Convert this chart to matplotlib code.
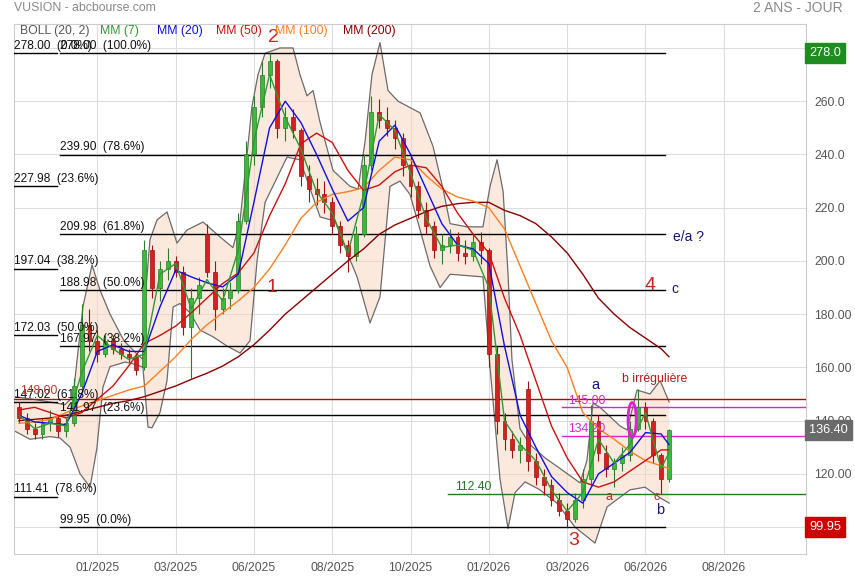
import matplotlib.pyplot as plt
import matplotlib.transforms as mtransforms
from matplotlib.patches import Ellipse
import numpy as np

plt.rcParams['font.family'] = ['Liberation Sans', 'DejaVu Sans']

# x is a trading-day index, month ticks every 40 days
tick_pos = [40, 80, 120, 160, 200, 240, 280, 320, 360]
tick_labels = ['01/2025', '03/2025', '06/2025', '08/2025', '10/2025',
               '01/2026', '03/2026', '06/2026', '08/2026']
price_ticks = [100, 120, 140, 160, 180, 200, 220, 240, 260, 280]
price_tick_labels = ['', '120.00', '140.00', '160.00', '180.00',
                     '200.0', '220.0', '240.0', '260.0', '280.0']

# candles, one every 4 days
candle_x = list(range(0, 333, 4))
opens = [145, 141, 137, 135, 139, 141, 136, 139, 153, 176,
         170, 165, 170, 167, 165, 164, 160, 204, 190, 197,
         200, 196, 175, 186, 210, 196, 182, 186, 189, 215,
         240, 258, 270, 275, 250, 254, 249, 232, 227, 225,
         222, 213, 206, 202, 210, 236, 256, 253, 250, 246,
         236, 228, 219, 213, 204, 206, 209, 203, 202, 207,
         204, 165, 140, 133, 129, 152, 125, 119, 116, 110,
         106, 103, 110, 118, 140, 128, 122, 124, 127, 137,
         145, 140, 127, 118]
closes = [141, 137, 135, 139, 141, 136, 139, 153, 176, 170,
          165, 170, 167, 165, 164, 159, 204, 190, 197, 200,
          196, 175, 186, 191, 196, 182, 186, 189, 215, 240,
          258, 270, 275, 250, 254, 249, 232, 227, 225, 222,
          213, 206, 202, 210, 236, 256, 253, 250, 246, 236,
          228, 219, 213, 204, 206, 209, 203, 202, 207, 204,
          165, 140, 133, 129, 131, 125, 119, 116, 110, 106,
          103, 110, 118, 140, 128, 122, 124, 127, 137, 145,
          140, 127, 118, 136.4]
highs = [147, 143, 139, 141, 144, 142, 141, 156, 184, 182,
         174, 172, 172, 169, 167, 165, 208, 206, 200, 205,
         202, 198, 190, 194, 214, 200, 190, 192, 218, 245,
         262, 275, 278, 276, 258, 257, 250, 236, 231, 230,
         224, 215, 208, 213, 240, 262, 261, 258, 253, 248,
         240, 230, 222, 215, 210, 212, 211, 208, 210, 211,
         205, 168, 143, 136, 134, 155, 128, 122, 118, 113,
         109, 113, 122, 146, 142, 131, 126, 130, 140, 152,
         147, 141, 128, 137]
lows = [139, 135, 133, 133, 136, 134, 134, 138, 152, 166,
        162, 164, 165, 163, 162, 157, 159, 186, 185, 193,
        194, 172, 156, 180, 194, 174, 180, 182, 188, 214,
        236, 254, 265, 246, 245, 246, 228, 222, 221, 218,
        210, 203, 196, 200, 209, 234, 250, 247, 242, 232,
        224, 216, 210, 201, 199, 203, 200, 199, 200, 199,
        160, 135, 129, 126, 124, 121, 116, 112, 108, 104,
        99.95, 102, 107, 116, 125, 119, 115, 121, 125, 136,
        137, 124, 112.4, 117]

# moving averages, one value every 8 days
ma_x = list(range(0, 329, 8)) + [332]
mm7 = [142, 137, 139, 138, 158, 172, 167, 163, 165, 195,
       199, 182, 193, 185, 204, 245, 270, 254, 242, 226,
       218, 203, 225, 255, 249, 233, 216, 205, 206, 204,
       190, 140, 131, 125, 114, 106, 113, 133, 124, 131,
       143, 122, 128]
mm20 = [142, 139.5, 139, 138.5, 150, 166, 168.5, 166, 166, 182.7,
        196.5, 194, 191.8, 190.2, 195, 222, 250, 260, 252, 240,
        227, 215, 220, 245, 251, 240, 227, 214, 206, 204.5,
        199, 168, 142, 130, 119, 113, 109, 120, 124, 128,
        135.5, 135, 131]
mm50 = [144, 145, 143, 141, 143, 148, 153, 160.5, 169, 172,
        175.5, 180.5, 186, 191.5, 195.5, 203, 217, 229, 244, 248,
        244.5, 234, 226.5, 228.5, 233.5, 236, 235, 228, 218, 210,
        203, 186, 172, 155, 138, 126, 117, 115, 117, 121,
        125, 129, 129]
mm100 = [139, 139.5, 140.5, 143, 145.5, 147.5, 149.5, 151.5, 153, 158.5,
         164, 170.5, 176, 180.5, 185, 190, 197, 206, 216, 222,
         225, 226, 227.5, 234, 239, 238, 232, 227, 224, 222.5,
         220, 212, 198, 184, 170, 160, 143, 137, 133, 128.5,
         125, 123, 122]
mm200 = [140, 140.5, 141, 142, 143.5, 145, 146.5, 147.5, 149, 151,
         153, 155.5, 157.8, 160.5, 164, 168.5, 174, 180, 185, 190,
         195, 200, 204.5, 210, 213.5, 216, 218.5, 220.5, 221.5, 222,
         222, 219, 217, 214, 209, 203, 195, 186, 180, 175,
         171, 167, 164]

# bollinger (20, 2)
boll_up_x = [-2.0, 7.2, 15.8, 23.5, 27.6, 32.7, 37.3, 41.4, 46.5, 53.6,
             60.3, 63.3, 64.9, 66.9, 70.5, 75.6, 80.7, 85.8, 94.0, 102.7,
             109.3, 112.9, 116.5, 119.0, 122.1, 125.7, 133.3, 140.0, 143.5, 147.1,
             150.2, 153.8, 160.4, 169.1, 173.2, 176.8, 180.3, 184.4, 188.5, 193.6,
             204.9, 211.5, 216.6, 220.2, 228.9, 237.0, 240.6, 244.2, 247.3, 249.8,
             251.8, 255.9, 261.0, 268.7, 276.4, 286.6, 290.1, 293.2, 296.8, 307.0,
             310.6, 315.7, 322.3, 327.5, 332.1]
boll_up = [149, 148, 147, 146, 149, 183, 198.5, 189, 180, 170,
           165, 163, 190, 208, 215.4, 218.4, 206.7, 211.6, 214.6, 209,
           205, 215, 240, 258, 270, 278, 280, 280, 270, 262,
           264, 252, 234, 228, 227, 245, 270, 282, 264, 260,
           255.6, 243, 227, 214, 212.8, 212.8, 228, 238, 226, 195,
           163, 137, 131, 126, 122, 116.6, 125, 146.6, 145, 138,
           136.5, 151.5, 150, 155, 147]
boll_lo_x = [-2.0, 5.6, 15.8, 20.9, 26.1, 31.2, 36.3, 39.8, 42.9, 46.5,
             54.2, 60.3, 63.3, 65.9, 67.9, 72.0, 75.6, 78.7, 82.2, 87.4,
             92.5, 99.1, 106.3, 112.9, 118.0, 121.6, 125.7, 136.9, 143.5, 153.8,
             161.4, 166.5, 172.7, 179.3, 184.4, 189.5, 194.6, 199.7, 204.9, 210.0,
             215.1, 220.2, 237.0, 240.6, 245.7, 249.8, 253.4, 258.5, 266.1, 274.8,
             284.0, 294.2, 300.4, 312.1, 319.8, 327.5, 332.1]
boll_lo = [136, 133, 134, 133.5, 130, 120, 115, 129.7, 152.6, 160.3,
           162, 161, 160, 137.6, 137.3, 143, 155, 182.7, 184, 180.5,
           174, 171.5, 168, 165.4, 170, 200, 222, 239, 238, 216.5,
           215, 205, 194, 176.7, 186.5, 228, 230, 225, 211.6, 198,
           190, 195, 194, 160, 118, 99.5, 113, 117, 114, 109,
           100, 94, 107.6, 114, 115, 111, 109]

# fibonacci sets
fib_a_levels = [278.00, 227.98, 197.04, 172.03, 147.02, 111.41]
fib_a_pcts = ['0.0%', '23.6%', '38.2%', '50.0%', '61.8%', '78.6%']
fib_b_levels = [278.00, 239.90, 209.98, 188.98, 167.97, 141.97, 99.95]
fib_b_pcts = ['100.0%', '78.6%', '61.8%', '50.0%', '38.2%', '23.6%', '0.0%']

last_price = 136.40
top_price = 278.0
low_price = 99.95

fig = plt.figure(figsize=(8.55, 5.8), dpi=100)
ax = fig.add_axes([14 / 855, 26 / 580, 792 / 855, 530 / 580])
ax.set_xlim(-2.55, 402.0)
ax.set_ylim(89.9, 289.0)

# bollinger band
poly_x = boll_up_x + boll_lo_x[::-1]
poly_y = boll_up + boll_lo[::-1]
ax.fill(poly_x, poly_y, color='#fbd5bd', alpha=0.5, lw=0, zorder=1)
ax.plot(boll_up_x, boll_up, color='#6b6b6b', lw=0.9, zorder=2)
ax.plot(boll_lo_x, boll_lo, color='#6b6b6b', lw=0.9, zorder=2)

# fibonacci lines
for lvl, pct in zip(fib_a_levels, fib_a_pcts):
    ax.plot([-2.55, 19.4], [lvl, lvl], color='black', lw=1, zorder=3)
    ax.text(-2.3, lvl + 0.5, '%.2f  (%s)' % (lvl, pct), fontsize=8.6,
            va='bottom', ha='left', color='#111', zorder=6)
for lvl, pct in zip(fib_b_levels, fib_b_pcts):
    ax.plot([20.9, 330], [lvl, lvl], color='black', lw=1, zorder=3)
    ax.text(20.9, lvl + 0.5, '%.2f  (%s)' % (lvl, pct), fontsize=8.6,
            va='bottom', ha='left', color='#111', zorder=6)

# horizontal levels
ax.axhline(148.00, color='#a01010', lw=1, zorder=3)
ax.text(0.8, 149.0, '148.00', color='#c0392b', fontsize=8.8, va='bottom', zorder=6)
ax.plot([277.4, 402], [145.0, 145.0], color='#e020d0', lw=1, zorder=3)
ax.text(280.5, 145.3, '145.00', color='#e020d0', fontsize=8.8, va='bottom', zorder=6)
ax.plot([277.4, 402], [134.2, 134.2], color='#e020d0', lw=1, zorder=3)
ax.text(280.5, 134.5, '134.20', color='#e020d0', fontsize=8.8, va='bottom', zorder=6)
ax.plot([219, 402], [112.4, 112.4], color='#1e7b1e', lw=1, zorder=3)
ax.text(222.7, 112.8, '112.40', color='#1e7b1e', fontsize=8.8, va='bottom', zorder=6)

# candles
o = np.array(opens)
c = np.array(closes)
rising = c >= o
body_col = np.where(rising, '#3cb83c', '#d42020')
edge_col = np.where(rising, '#2a7d2a', '#a01010')
ax.vlines(candle_x, lows, highs, colors=edge_col, lw=0.8, zorder=4)
ax.bar(candle_x, np.maximum(np.abs(c - o), 0.4), bottom=np.minimum(o, c),
       width=2.0, color=body_col, edgecolor=edge_col, lw=0.5, zorder=4)

# moving averages
ax.plot(ma_x, mm200, color='#8b0000', lw=1, zorder=5)
ax.plot(ma_x, mm100, color='#ff7f1e', lw=1, zorder=5)
ax.plot(ma_x, mm50, color='#cc1111', lw=1, zorder=5)
ax.plot(ma_x, mm20, color='#1010dd', lw=1, zorder=5)
ax.plot(ma_x, mm7, color='#2f9a2f', lw=1, zorder=5)

# wave labels
ax.text(129.8, 283.8, '2', color='#cc2222', fontsize=14, ha='center', va='center', zorder=7)
ax.text(129.2, 190.2, '1', color='#cc2222', fontsize=14, ha='center', va='center', zorder=7)
ax.text(283.5, 94.8, '3', color='#cc2222', fontsize=14, ha='center', va='center', zorder=7)
ax.text(322.3, 190.6, '4', color='#cc2222', fontsize=14, ha='center', va='center', zorder=7)
ax.text(335.1, 189.5, 'c', color='#14147a', fontsize=10, ha='center', va='center', zorder=7)
ax.text(334.0, 209.0, 'e/a ?', color='#14147a', fontsize=10, ha='left', va='center', zorder=7)
ax.text(294.3, 153.4, 'a', color='#14147a', fontsize=10.5, ha='center', va='center', zorder=7)
ax.text(324.9, 155.7, 'b irrégulière', color='#b01c1c', fontsize=8.8, ha='center', va='center', zorder=7)
ax.text(301.4, 111.3, 'a', color='#cc2222', fontsize=9, ha='center', va='center', zorder=7)
ax.text(325.9, 111.3, 'c', color='#cc2222', fontsize=9, ha='center', va='center', zorder=7)
ax.text(327.5, 106.4, 'b', color='#14147a', fontsize=10.5, ha='center', va='center', zorder=7)
ax.add_patch(Ellipse((313.2, 140.3), 4.2, 13, fill=False, edgecolor='#e020d0', lw=2, zorder=7))

# axes styling
ax.set_xticks(tick_pos)
ax.set_xticklabels(tick_labels)
ax.yaxis.tick_right()
ax.set_yticks(price_ticks)
ax.set_yticklabels(price_tick_labels)
ax.tick_params(axis='x', length=0, pad=6, labelsize=8.8, labelcolor='#555555')
ax.tick_params(axis='y', length=0, pad=6, labelsize=8.8, labelcolor='#555555')
ax.grid(color='#dddddd', lw=0.8, zorder=0)
ax.set_axisbelow(True)
for sp in ax.spines.values():
    sp.set_color('#cccccc')

# price boxes on the right axis
trans = mtransforms.blended_transform_factory(ax.transAxes, ax.transData)
for val, txt, col in [(top_price, '278.0', '#1e8c1e'),
                      (last_price, '136.40', '#6a6a6a'),
                      (low_price, '99.95', '#cc0000')]:
    ax.text(1.004, val, txt, transform=trans, color='white', fontsize=9.2,
            ha='left', va='center', clip_on=False, zorder=8,
            bbox=dict(boxstyle='square,pad=0.3', facecolor=col, edgecolor=col))

# header and legend
fig.text(14 / 855, 1 - 8 / 580, 'VUSION - abcbourse.com', color='#888888',
         fontsize=8.8, ha='left', va='center')
fig.text(843 / 855, 1 - 8 / 580, '2 ANS - JOUR', color='#888888',
         fontsize=10, ha='right', va='center')
legend_items = [('BOLL (20, 2)', '#555555', 20), ('MM (7)', '#2f9a2f', 100),
                ('MM (20)', '#1010dd', 157), ('MM (50)', '#cc1111', 216),
                ('MM (100)', '#ff7f1e', 275), ('MM (200)', '#8b0000', 343)]
for name, col, px in legend_items:
    fig.text(px / 855, 1 - 31 / 580, name, color=col, fontsize=8.8,
             ha='left', va='center')

fig.savefig('out.png', dpi=100)
